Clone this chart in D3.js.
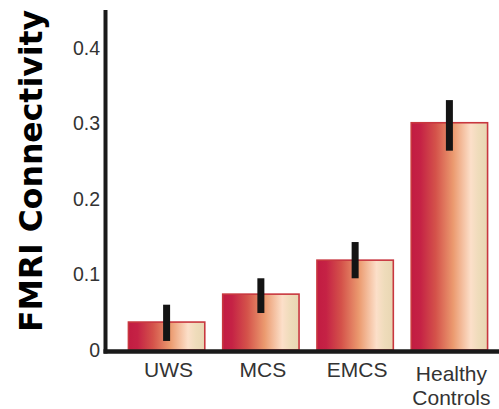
<!DOCTYPE html>
<html><head><meta charset="utf-8">
<script src="https://cdn.jsdelivr.net/npm/d3@7"></script>
<style>body{margin:0;background:#fff}svg{display:block}</style>
</head><body>
<script>
const categories = ["UWS", "MCS", "EMCS", "Healthy Controls"];
const values = [0.037, 0.074, 0.119, 0.301];
const errLow = [0.012, 0.049, 0.095, 0.264];
const errHigh = [0.060, 0.095, 0.143, 0.331];
const yTicks = [0, 0.1, 0.2, 0.3, 0.4];
const yTickLabels = ["0", "0.1", "0.2", "0.3", "0.4"];

const W = 499, H = 409;
const svg = d3.select("body").append("svg").attr("width", W).attr("height", H);

const y = d3.scaleLinear().domain([0, 0.4]).range([350, 48]);
const x = d3.scaleBand().domain(categories).range([119, 497]).paddingInner(0.19).paddingOuter(0.1);

const defs = svg.append("defs");
const grad = defs.append("linearGradient").attr("id", "barGrad").attr("x1", "0%").attr("x2", "100%").attr("y1", "0%").attr("y2", "0%");
[["0%", "#c21c42"], ["12%", "#c52245"], ["32%", "#d4524a"], ["55%", "#eb9a6f"], ["78%", "#fcdfc9"], ["88%", "#efdcbb"], ["100%", "#e8d6b2"]]
  .forEach(([o, c]) => grad.append("stop").attr("offset", o).attr("stop-color", c));

// bars
svg.selectAll("rect.bar").data(categories).enter().append("rect")
  .attr("class", "bar")
  .attr("x", d => x(d))
  .attr("width", x.bandwidth())
  .attr("y", (d, i) => y(values[i]))
  .attr("height", (d, i) => y(0) - y(values[i]))
  .attr("fill", "url(#barGrad)")
  .attr("stroke", "#c8373f").attr("stroke-width", 1.6);

// error bars
svg.selectAll("rect.err").data(categories).enter().append("rect")
  .attr("class", "err")
  .attr("x", d => x(d) + x.bandwidth() / 2 - 3.5)
  .attr("width", 7)
  .attr("y", (d, i) => y(errHigh[i]))
  .attr("height", (d, i) => y(errLow[i]) - y(errHigh[i]))
  .attr("fill", "#141414");

// y axis
const yAxis = d3.axisLeft(y).tickValues(yTicks).tickFormat((d, i) => yTickLabels[i]).tickSize(0).tickPadding(5);
const gy = svg.append("g").attr("transform", "translate(105,0)").call(yAxis);
gy.select(".domain").remove();
gy.selectAll("text").attr("font-family", "Liberation Sans, Arial, sans-serif").attr("font-size", 19.5).attr("fill", "#333");
svg.append("line").attr("x1", 105.5).attr("x2", 105.5).attr("y1", 10).attr("y2", 353.5).attr("stroke", "#1a1a1a").attr("stroke-width", 4);

// x axis
const xAxis = d3.axisBottom(x).tickSize(0).tickFormat("");
const gx = svg.append("g").attr("transform", "translate(0,351.5)").call(xAxis);
gx.select(".domain").remove();
svg.append("line").attr("x1", 103.5).attr("x2", 499).attr("y1", 351.5).attr("y2", 351.5).attr("stroke", "#1a1a1a").attr("stroke-width", 4.5);

gx.selectAll(".tick").each(function(d) {
  const words = d.split(" ");
  const t = d3.select(this).append("text")
    .attr("font-family", "Liberation Sans, Arial, sans-serif").attr("font-size", 21)
    .attr("fill", "#333").attr("text-anchor", "middle");
  const y0 = words.length > 1 ? 29.5 : 25.5;
  words.forEach((w, i) => t.append("tspan").attr("x", 2).attr("y", y0 + i * 24).text(w));
});

// y title
svg.append("text")
  .attr("transform", "translate(42,171) rotate(-90)")
  .attr("text-anchor", "middle")
  .attr("font-family", "DejaVu Sans, sans-serif").attr("font-weight", "bold")
  .attr("font-size", 31.5).attr("fill", "#000")
  .text("FMRI Connectivity");
</script>
</body></html>
